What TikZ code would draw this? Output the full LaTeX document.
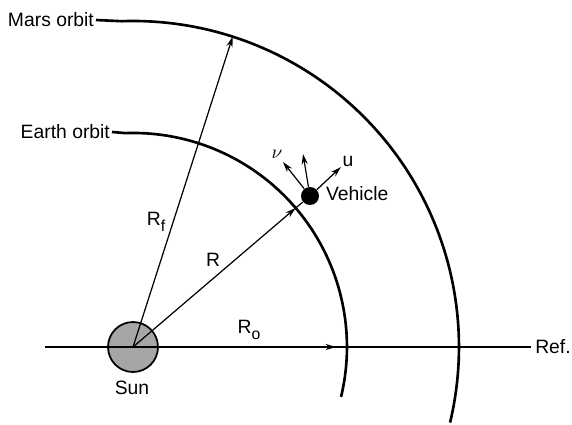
\documentclass[tikz,border=0pt]{standalone}
\usepackage{fontspec}
\setmainfont{Liberation Sans}
\usepackage{tikz}
\usetikzlibrary{positioning, arrows.meta}

\begin{document}
\begin{tikzpicture}[x=0.02cm, y=0.02cm, font=\fontsize{11}{13}\selectfont]
    \useasboundingbox (0,0) rectangle (572,424);
    \tikzset{orbit/.style={line width=1.5pt}, vec/.style={-{Stealth[length=6pt, width=3.5pt]}, line width=0.7pt}}

    % Nodes
    \node[circle, draw, line width=1pt, fill=black!35, minimum size=1cm, inner sep=0] (sun) at (133,77) {};
    \node (sunlbl) at (132,36) {Sun};
    \node[circle, fill=black, minimum size=0.36cm, inner sep=0] (veh) at (310,228) {};
    \node[anchor=west, inner sep=1pt] (vehlbl) at (324,230) {Vehicle};
    \node[anchor=east, inner sep=1pt] (mars) at (96,404) {Mars orbit};
    \node[anchor=east, inner sep=1pt] (earth) at (112,292) {Earth orbit};
    \node (reflbl) at (553,77) {Ref.};
    \node (rf) at (156,202) {R\raisebox{-0.6ex}{\small f}};
    \node (r) at (213,164) {R};
    \node (ro) at (249,94) {R\raisebox{-0.6ex}{\small o}};
    \node (u) at (348,263) {u};
    \node (nu) at (277,270) {$\nu$};

    % Coordinates
    \coordinate (refw) at (45,77);
    \coordinate (refe) at (531,77);
    \coordinate (refm) at (336,77);
    \coordinate (rE) at (295.7,216);
    \coordinate (rF) at (232.7,387.4);
    \coordinate (utip) at (341,257);
    \coordinate (vtip) at (303,270);
    \coordinate (nutip) at (283,262);

    % Orbits
    \draw[orbit] (mars.east) -- (121.6,402.8) arc[start angle=92, end angle=-13.4, radius=326];
    \draw[orbit] (earth.east) -- (125.5,290.9) arc[start angle=92, end angle=-13.5, radius=214];

    % Connections
    \draw[line width=0.8pt] (refw) -- (refe);
    \draw[vec, line width=0.8pt] (sun.center) -- (refm);
    \draw[vec] (sun.center) -- (rF);
    \draw[vec] (sun.center) -- (rE);
    \draw[line width=0.7pt] (rE) -- (veh);
    \draw[vec] (veh) -- (utip);
    \draw[vec] (veh) -- (vtip);
    \draw[vec] (veh) -- (nutip);
\end{tikzpicture}
\end{document}
